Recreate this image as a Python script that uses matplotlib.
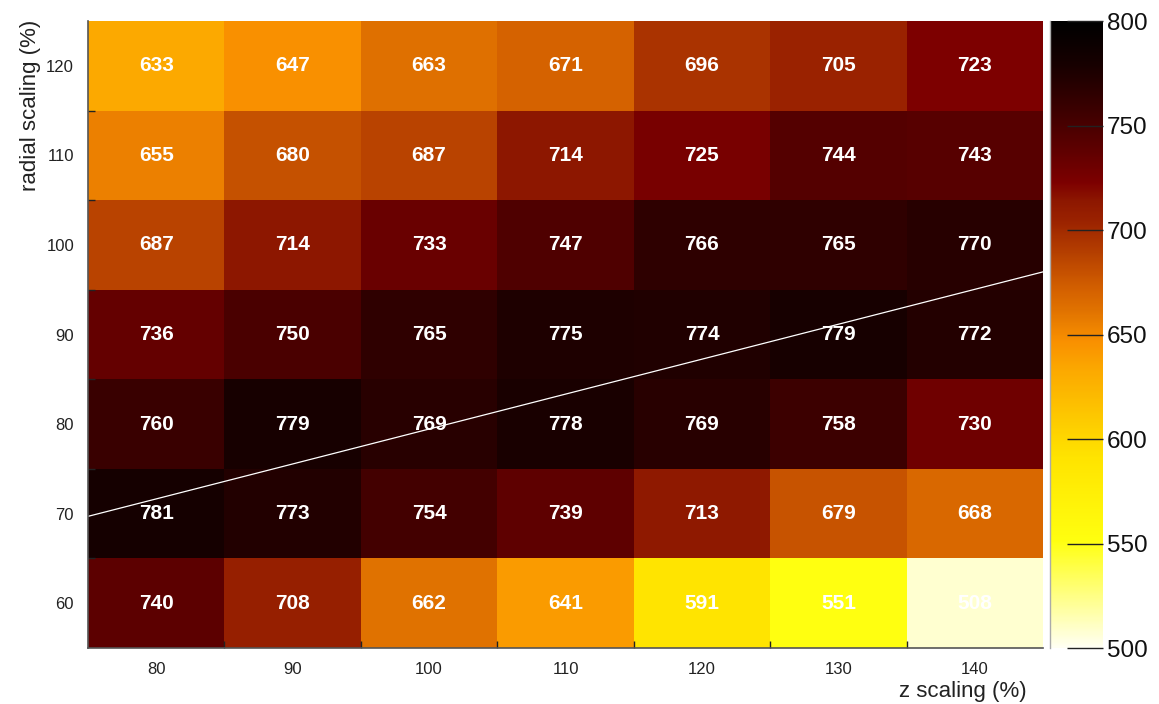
import numpy as np
import matplotlib
matplotlib.use("Agg")
import matplotlib.pyplot as plt
from matplotlib.colors import LinearSegmentedColormap, Normalize

plt.rcParams['font.family'] = ['Liberation Sans', 'DejaVu Sans']

# z scaling (columns) and radial scaling (rows), in percent
z_scaling = [80, 90, 100, 110, 120, 130, 140]
radial_scaling = [60, 70, 80, 90, 100, 110, 120]

# cell values, one list per radial row (bottom to top)
row_60 = [740, 708, 662, 641, 591, 551, 508]
row_70 = [781, 773, 754, 739, 713, 679, 668]
row_80 = [760, 779, 769, 778, 769, 758, 730]
row_90 = [736, 750, 765, 775, 774, 779, 772]
row_100 = [687, 714, 733, 747, 766, 765, 770]
row_110 = [655, 680, 687, 714, 725, 744, 743]
row_120 = [633, 647, 663, 671, 696, 705, 723]

# reference line across the map
line_z = [75, 145]
line_r = [69.7, 97.0]

vmin, vmax = 500, 800
cbar_ticks = [500, 550, 600, 650, 700, 750, 800]

values = np.array([row_60, row_70, row_80, row_90, row_100, row_110, row_120])

anchors = [
    (500, "#FFFFF2"), (551, "#FFFF10"), (591, "#FFE400"), (633, "#FCA900"),
    (647, "#F99000"), (662, "#E07200"), (671, "#D56200"), (696, "#AA3300"),
    (705, "#9A2200"), (714, "#8E1800"), (723, "#7D0000"), (740, "#5C0000"),
    (750, "#4A0000"), (765, "#300000"), (779, "#180000"), (800, "#000000"),
]
cmap = LinearSegmentedColormap.from_list(
    "body", [((v - vmin) / (vmax - vmin), c) for v, c in anchors], N=512)
norm = Normalize(vmin=vmin, vmax=vmax)

fig = plt.figure(figsize=(11.59, 7.04), dpi=100)
ax = fig.add_axes([0.0759, 0.0795, 0.8241, 0.8906])
cax = fig.add_axes([0.9060, 0.0795, 0.0457, 0.8906])

dz = z_scaling[1] - z_scaling[0]
dr = radial_scaling[1] - radial_scaling[0]
z_edges = np.append(np.array(z_scaling) - dz / 2, z_scaling[-1] + dz / 2)
r_edges = np.append(np.array(radial_scaling) - dr / 2, radial_scaling[-1] + dr / 2)

ax.pcolormesh(z_edges, r_edges, values, cmap=cmap, norm=norm, shading="flat")

for i, r in enumerate(radial_scaling):
    for j, z in enumerate(z_scaling):
        ax.text(z, r, f"{values[i, j]:d}", ha="center", va="center",
                color="white", fontsize=15, fontweight="bold")

ax.plot(line_z, line_r, color="white", lw=0.9)

ax.set_xlim(z_edges[0], z_edges[-1])
ax.set_ylim(r_edges[0], r_edges[-1])

ax.set_xticks(z_scaling)
ax.set_xticklabels([str(v) for v in z_scaling])
ax.set_yticks(radial_scaling)
ax.set_yticklabels([str(v) for v in radial_scaling])
ax.set_xticks(z_edges[1:-1], minor=True)
ax.set_yticks(r_edges[1:-1], minor=True)
ax.tick_params(which="major", length=0, labelsize=12, labelcolor="#222222")
ax.tick_params(axis="x", which="major", pad=10)
ax.tick_params(axis="y", which="major", pad=10)
ax.tick_params(which="minor", direction="in", length=5, width=1, color="#222222")

for side in ["left", "bottom"]:
    ax.spines[side].set_color("#555555")
    ax.spines[side].set_linewidth(1.2)
for side in ["right", "top"]:
    ax.spines[side].set_visible(False)

fig.text(0.886, 0.010, "z scaling (%)", ha="right", va="baseline",
         fontsize=16, color="#222222")
fig.text(0.026, 0.972, "radial scaling (%)", ha="center", va="top",
         rotation=90, fontsize=16, color="#222222")

grad = np.linspace(vmin, vmax, 600).reshape(-1, 1)
cax.imshow(grad, aspect="auto", origin="lower", cmap=cmap, norm=norm,
           extent=[0, 1, vmin, vmax])
cax.set_xlim(0, 1)
cax.set_ylim(vmin, vmax)
cax.set_xticks([])
cax.yaxis.tick_right()
cax.set_yticks(cbar_ticks)
cax.set_yticklabels([str(t) for t in cbar_ticks])
cax.tick_params(axis="y", direction="in", length=26, width=1, color="#222222",
                labelsize=17.5, labelcolor="#111111", pad=3)
for side in ["left", "right", "top", "bottom"]:
    cax.spines[side].set_visible(False)
cax.spines["left"].set_visible(True)
cax.spines["left"].set_color("#aaaaaa")
cax.spines["left"].set_linewidth(1.0)

fig.savefig("out.png", dpi=100)
